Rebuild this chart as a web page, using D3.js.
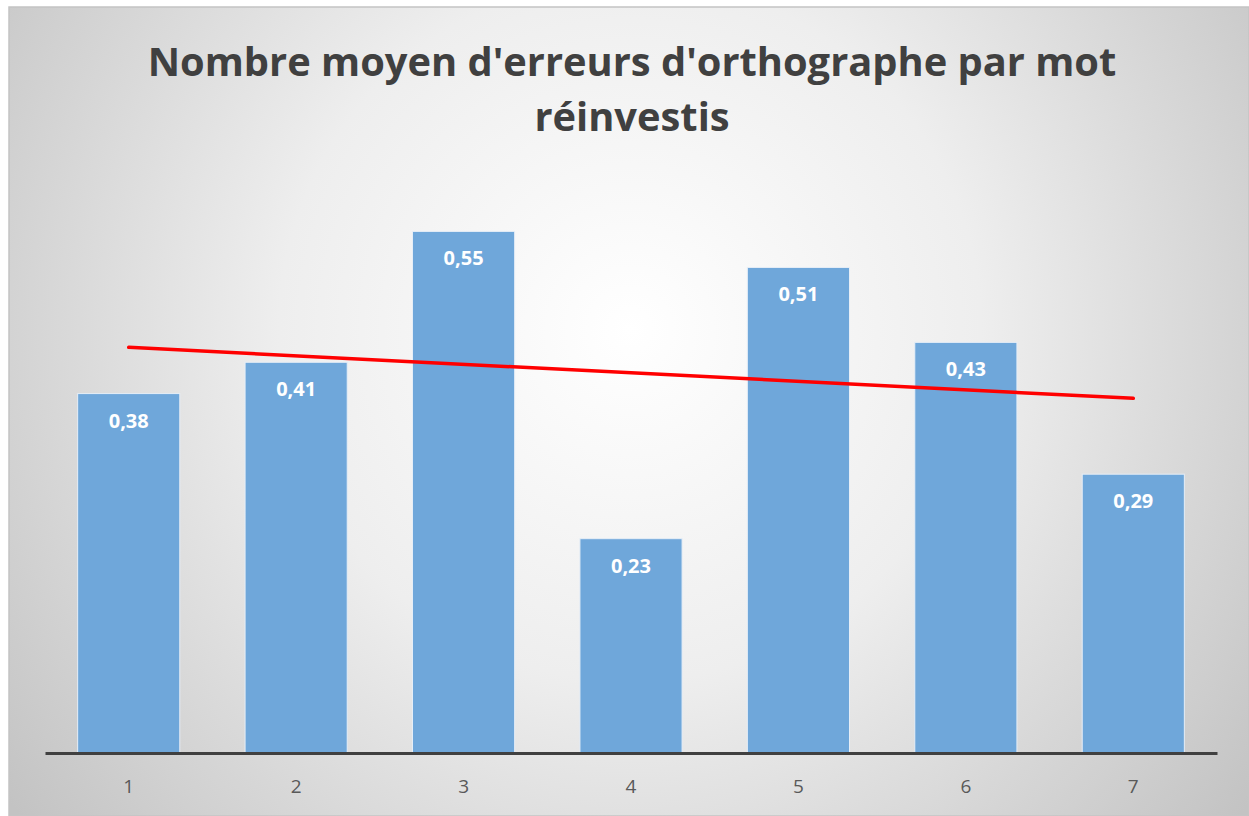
<!DOCTYPE html>
<html lang="fr">
<head>
<meta charset="UTF-8">
<title>Nombre moyen d'erreurs</title>
<script src="https://d3js.org/d3.v7.min.js"></script>
<style>
  body { margin: 0; background: #fff; }
  svg text { font-family: "Open Sans", "Noto Sans", sans-serif; }
</style>
</head>
<body>
<svg id="chart" width="1249" height="816"></svg>
<script>
// data
const categories = ["1", "2", "3", "4", "5", "6", "7"];
const values = [0.379, 0.412, 0.55, 0.226, 0.512, 0.433, 0.294];
const titleLines = ["Nombre moyen d'erreurs d'orthographe par mot", "réinvestis"];

const width = 1249, height = 816;
const margin = { left: 45, right: 32, top: 184, bottom: 63 };
const baseline = height - margin.bottom;

const svg = d3.select("#chart");

// background gradient like the office chart style
const defs = svg.append("defs");
const grad = defs.append("radialGradient")
  .attr("id", "bg")
  .attr("gradientUnits", "userSpaceOnUse")
  .attr("cx", 630).attr("cy", 330).attr("r", 780);
grad.append("stop").attr("offset", "0%").attr("stop-color", "#ffffff");
grad.append("stop").attr("offset", "45%").attr("stop-color", "#eeeeee");
grad.append("stop").attr("offset", "100%").attr("stop-color", "#c3c3c3");

svg.append("rect")
  .attr("x", 9).attr("y", 7)
  .attr("width", width - 9).attr("height", height - 7)
  .attr("fill", "url(#bg)")
  .attr("stroke", "#c4c4c4").attr("stroke-width", 1.5);

const x = d3.scaleBand()
  .domain(categories)
  .range([margin.left, width - margin.right])
  .paddingInner(0.39)
  .paddingOuter(0.195);

const y = d3.scaleLinear()
  .domain([0, 0.6])
  .range([baseline, margin.top]);

const fmt = v => d3.format(".2f")(v).replace(".", ",");

// bars
svg.append("g")
  .selectAll("rect")
  .data(values)
  .join("rect")
  .attr("x", (d, i) => x(categories[i]))
  .attr("y", d => y(d))
  .attr("width", x.bandwidth())
  .attr("height", d => y(0) - y(d))
  .attr("fill", "#6fa7da")
  .attr("stroke", "#e6eef7")
  .attr("stroke-width", 1);

// data labels
svg.append("g")
  .selectAll("text")
  .data(values)
  .join("text")
  .attr("x", (d, i) => x(categories[i]) + x.bandwidth() / 2)
  .attr("y", d => y(d) + 34)
  .attr("text-anchor", "middle")
  .attr("fill", "#ffffff")
  .attr("font-weight", "bold")
  .attr("font-size", 20)
  .text(d => fmt(d));

// linear trendline (least squares)
const xs = values.map((d, i) => i + 1);
const mx = d3.mean(xs), my = d3.mean(values);
const slope = d3.sum(xs, (xi, i) => (xi - mx) * (values[i] - my)) / d3.sum(xs, xi => (xi - mx) ** 2);
const intercept = my - slope * mx;
const trend = [1, categories.length].map(k => [k, intercept + slope * k]);

svg.append("path")
  .datum(trend)
  .attr("d", d3.line()
    .x(d => x(categories[d[0] - 1]) + x.bandwidth() / 2)
    .y(d => y(d[1])))
  .attr("fill", "none")
  .attr("stroke", "#ff0000")
  .attr("stroke-width", 3.5)
  .attr("stroke-linecap", "round");

// x axis
const xAxis = svg.append("g")
  .attr("transform", `translate(0,${baseline})`)
  .call(d3.axisBottom(x).tickSize(0).tickPadding(27));
xAxis.select(".domain").attr("stroke", "#404040").attr("stroke-width", 3);
xAxis.selectAll("text")
  .attr("fill", "#595959")
  .attr("font-size", 19)
  .style("font-family", "'Open Sans', sans-serif");

// title
const title = svg.append("text")
  .attr("text-anchor", "middle")
  .attr("fill", "#404040")
  .attr("font-weight", "bold")
  .attr("font-size", 40);
title.selectAll("tspan")
  .data(titleLines)
  .join("tspan")
  .attr("x", 632)
  .attr("y", (d, i) => 76 + i * 55)
  .text(d => d);
// fit first line to the width seen in the picture
const w = title.select("tspan").node().getComputedTextLength();
title.attr("font-size", 40 * 969 / w);
</script>
</body>
</html>
